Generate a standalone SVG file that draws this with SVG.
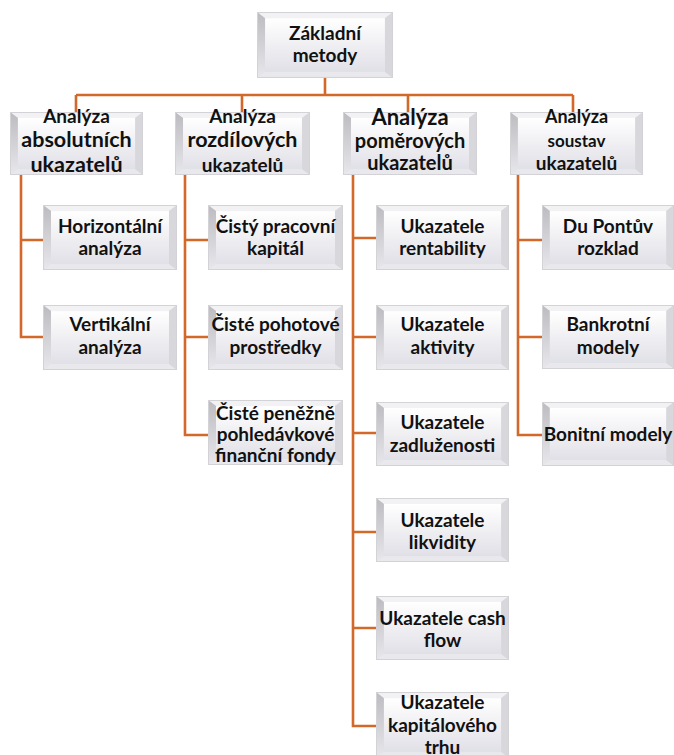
<svg xmlns="http://www.w3.org/2000/svg" xmlns:xlink="http://www.w3.org/1999/xlink" width="674" height="755" viewBox="0 0 674 755">
<defs>
<linearGradient id="face" x1="0" y1="0" x2="0" y2="1">
<stop offset="0" stop-color="#ffffff"/>
<stop offset="1" stop-color="#e0e0e7"/>
</linearGradient>
<linearGradient id="leftg" x1="0" y1="0" x2="0" y2="1">
<stop offset="0" stop-color="#bcbcc0"/>
<stop offset="1" stop-color="#e8e8ec"/>
</linearGradient>
<symbol id="bevel" viewBox="0 0 134 64" preserveAspectRatio="none">
<rect x="0" y="0" width="134" height="64" fill="#e4e4e8"/>
<polygon points="0,0 134,0 126,6 8,6" fill="#f2f2f4"/>
<polygon points="0,0 8,6 8,58 0,64" fill="url(#leftg)"/>
<polygon points="0,64 8,58 126,58 134,64" fill="#e9e9ed"/>
<polygon points="134,0 126,6 126,58 134,64" fill="#d8d8dc"/>
<rect x="8" y="6" width="118" height="52" fill="url(#face)"/>
<rect x="0.5" y="0.5" width="133" height="63" fill="none" stroke="#d2d2d7" stroke-width="1"/>
</symbol>
</defs>
<style>
.c{fill:none;stroke:#d2692a;stroke-width:2.6}
.t{font-family:Lato,"Open Sans",sans-serif;font-weight:bold;fill:#111111;text-anchor:middle;font-size:19px}
</style>
<rect width="674" height="755" fill="#ffffff"/>
<g id="connectors">
<path class="c" d="M325,78V95M76,95H573M76,95V112M242,95V112M408,95V112M573,95V112"/>
<path class="c" d="M21,175V337H43M21,240H43"/>
<path class="c" d="M185,175V435H208M185,240H208M185,337H208"/>
<path class="c" d="M353,175V726H376M353,238H376M353,337H376M353,433H376M353,532H376M353,628H376"/>
<path class="c" d="M518,175V435H542M518,240H542M518,337H542"/>
</g>
<g id="n-zakladni"><use xlink:href="#bevel" x="257" y="12" width="136" height="66"/>
<text class="t" x="325" y="40">Základní</text><text class="t" x="325" y="62">metody</text></g>
<g id="n-absolutnich"><use xlink:href="#bevel" x="10" y="112" width="133" height="63"/>
<text class="t" x="76.5" y="123" style="font-size:19px">Analýza</text><text class="t" x="76.5" y="147" style="font-size:21.5px">absolutních</text><text class="t" x="76.5" y="172" style="font-size:21.5px">ukazatelů</text></g>
<g id="n-rozdilovych"><use xlink:href="#bevel" x="175" y="112" width="135" height="63"/>
<text class="t" x="242.5" y="123" style="font-size:19px">Analýza</text><text class="t" x="242.5" y="147" style="font-size:21.5px">rozdílových</text><text class="t" x="242.5" y="172" style="font-size:19px">ukazatelů</text></g>
<g id="n-pomerovych"><use xlink:href="#bevel" x="343" y="112" width="134" height="63"/>
<text class="t" x="410" y="125" style="font-size:22px">Analýza</text><text class="t" x="410" y="148" style="font-size:20px">poměrových</text><text class="t" x="410" y="170" style="font-size:20px">ukazatelů</text></g>
<g id="n-soustav"><use xlink:href="#bevel" x="510" y="112" width="133" height="63"/>
<text class="t" x="576.5" y="123" style="font-size:18px">Analýza</text><text class="t" x="576.5" y="147" style="font-size:17px">soustav</text><text class="t" x="576.5" y="170" style="font-size:19px">ukazatelů</text></g>
<g id="n-horizontalni"><use xlink:href="#bevel" x="43" y="205" width="134" height="65"/>
<text class="t" x="110" y="233">Horizontální</text><text class="t" x="110" y="255">analýza</text></g>
<g id="n-vertikalni"><use xlink:href="#bevel" x="43" y="305" width="134" height="65"/>
<text class="t" x="110" y="331">Vertikální</text><text class="t" x="110" y="354">analýza</text></g>
<g id="n-cpk"><use xlink:href="#bevel" x="208" y="205" width="135" height="65"/>
<text class="t" x="275.5" y="233">Čistý pracovní</text><text class="t" x="275.5" y="255">kapitál</text></g>
<g id="n-cpp"><use xlink:href="#bevel" x="208" y="305" width="135" height="65"/>
<text class="t" x="275.5" y="331">Čisté pohotové</text><text class="t" x="275.5" y="354">prostředky</text></g>
<g id="n-cppff"><use xlink:href="#bevel" x="208" y="400" width="135" height="65"/>
<text class="t" x="275.5" y="420">Čisté peněžně</text><text class="t" x="275.5" y="441">pohledávkové</text><text class="t" x="275.5" y="462">finanční fondy</text></g>
<g id="n-rentability"><use xlink:href="#bevel" x="376" y="205" width="133" height="65"/>
<text class="t" x="442.5" y="233">Ukazatele</text><text class="t" x="442.5" y="255">rentability</text></g>
<g id="n-aktivity"><use xlink:href="#bevel" x="376" y="305" width="133" height="65"/>
<text class="t" x="442.5" y="331">Ukazatele</text><text class="t" x="442.5" y="354">aktivity</text></g>
<g id="n-zadluzenosti"><use xlink:href="#bevel" x="376" y="402" width="133" height="64"/>
<text class="t" x="442.5" y="429">Ukazatele</text><text class="t" x="442.5" y="452">zadluženosti</text></g>
<g id="n-likvidity"><use xlink:href="#bevel" x="376" y="498" width="133" height="64"/>
<text class="t" x="442.5" y="527">Ukazatele</text><text class="t" x="442.5" y="549">likvidity</text></g>
<g id="n-cashflow"><use xlink:href="#bevel" x="376" y="596" width="133" height="64"/>
<text class="t" x="442.5" y="625">Ukazatele cash</text><text class="t" x="442.5" y="647">flow</text></g>
<g id="n-kapitaloveho"><use xlink:href="#bevel" x="376" y="692" width="133" height="66"/>
<text class="t" x="442.5" y="709">Ukazatele</text><text class="t" x="442.5" y="732">kapitálového</text><text class="t" x="442.5" y="754">trhu</text></g>
<g id="n-dupont"><use xlink:href="#bevel" x="542" y="205" width="132" height="65"/>
<text class="t" x="608" y="233">Du Pontův</text><text class="t" x="608" y="255">rozklad</text></g>
<g id="n-bankrotni"><use xlink:href="#bevel" x="542" y="305" width="132" height="64"/>
<text class="t" x="608" y="331">Bankrotní</text><text class="t" x="608" y="354">modely</text></g>
<g id="n-bonitni"><use xlink:href="#bevel" x="542" y="402" width="132" height="64"/>
<text class="t" x="608" y="441">Bonitní modely</text></g>
</svg>
